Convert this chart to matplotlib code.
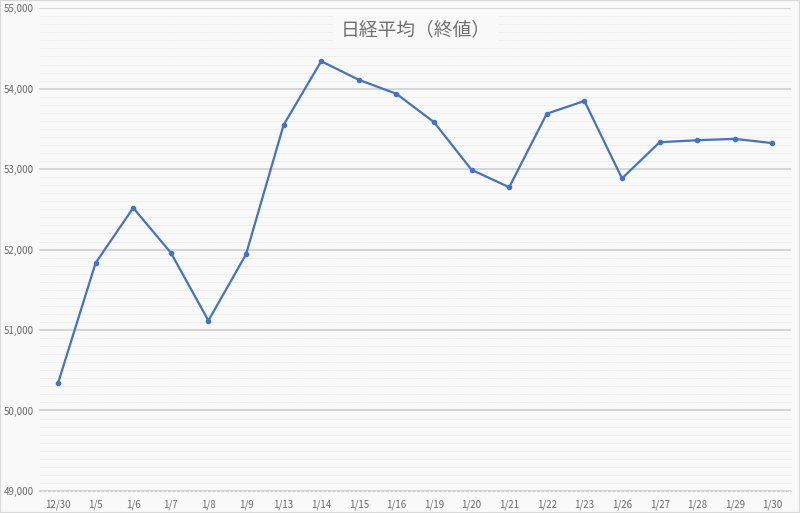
import matplotlib.pyplot as plt
from matplotlib.ticker import MultipleLocator, FuncFormatter

plt.rcParams['font.family'] = ['Noto Sans CJK JP', 'DejaVu Sans']

# 日経平均 終値
dates = ["12/30", "1/5", "1/6", "1/7", "1/8", "1/9", "1/13", "1/14", "1/15", "1/16",
         "1/19", "1/20", "1/21", "1/22", "1/23", "1/26", "1/27", "1/28", "1/29", "1/30"]
closes = [50339, 51833, 52518, 51962, 51117, 51940, 53549, 54341, 54110, 53936,
          53584, 52991, 52775, 53689, 53847, 52885, 53334, 53359, 53376, 53323]

bg = "#f9f9f9"
fig = plt.figure(figsize=(8, 5.13), dpi=100, facecolor=bg)
ax = fig.add_axes([0.049, 0.043, 0.94, 0.941], facecolor=bg)

x = list(range(len(dates)))
ax.plot(x, closes, color="#4472C4", lw=1.6, marker="o", ms=3, zorder=3)

ax.set_xlim(-0.5, len(dates) - 0.5)
ax.set_ylim(49000, 55000)
ax.set_xticks(x)
ax.set_xticklabels(dates)
ax.yaxis.set_major_locator(MultipleLocator(1000))
ax.yaxis.set_minor_locator(MultipleLocator(100))
ax.yaxis.set_major_formatter(FuncFormatter(lambda v, p: f"{int(v):,}"))

ax.grid(axis="y", which="major", color="#d0d0d0", lw=1.2)
ax.grid(axis="y", which="minor", color="#ebebeb", lw=0.7, ls=(0, (2, 1)))
ax.set_axisbelow(True)

for s in ["top", "right", "left"]:
    ax.spines[s].set_visible(False)
ax.spines["bottom"].set_color("#d0d0d0")
ax.spines["bottom"].set_linestyle((0, (2, 2)))
ax.spines["bottom"].set_linewidth(0.8)

ax.tick_params(axis="y", which="both", length=0, labelsize=7, labelcolor="#6a6a6a", pad=4)
ax.tick_params(axis="x", length=0, labelsize=7, labelcolor="#6a6a6a", pad=6)

ax.text(0.5, 0.955, "日経平均（終値）", transform=ax.transAxes, ha="center", va="center",
        fontsize=13.5, color="#707070",
        bbox=dict(boxstyle="square,pad=0.4", fc=bg, ec="none"))

fig.patches.append(plt.Rectangle((0, 0), 1, 1, transform=fig.transFigure,
                                 fill=False, ec="#d9d9d9", lw=1.5))

fig.savefig("out.png", dpi=100, facecolor=bg)
